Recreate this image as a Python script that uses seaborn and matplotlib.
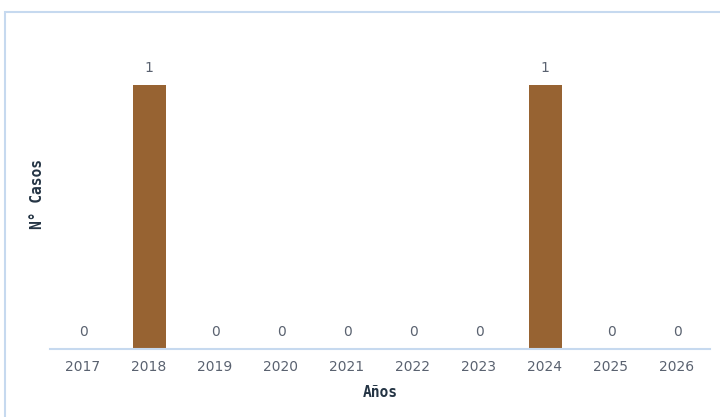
import matplotlib
matplotlib.use("Agg")
import matplotlib.pyplot as plt
import seaborn as sns
import pandas as pd
from matplotlib.patches import Rectangle
from matplotlib.font_manager import FontProperties

years = ["2017", "2018", "2019", "2020", "2021", "2022", "2023", "2024", "2025", "2026"]
casos = [0, 1, 0, 0, 0, 0, 0, 1, 0, 0]

df = pd.DataFrame({"Años": years, "Casos": casos})

sns.set_style("white")
plt.rcParams['font.family'] = ['DejaVu Sans']

fig = plt.figure(figsize=(7.2, 4.17), dpi=100)
ax = fig.add_axes([50/720, 1 - 349/417, 660/720, (349 - 45)/417])

sns.barplot(data=df, x="Años", y="Casos", color="#976332", width=0.5,
            saturation=1, ax=ax, order=years, linewidth=0)

ax.set_ylim(0, 1.15)
ax.set_xlim(-0.5, len(years) - 0.5)
ax.set_yticks([])
for s in ["top", "right", "left"]:
    ax.spines[s].set_visible(False)
ax.spines["bottom"].set_color("#c6d9ef")
ax.spines["bottom"].set_linewidth(1.5)
ax.tick_params(axis="x", length=0, pad=8, labelsize=10, labelcolor="#5a6270")

for i, v in enumerate(casos):
    ax.annotate(str(v), (i, v), xytext=(0, 7), textcoords="offset points",
                ha="center", va="bottom", fontsize=10, color="#5a6270")

lab_fp = FontProperties(family=["DejaVu Sans Mono"], weight="bold", size=10.5)
ax.set_xlabel("Años", fontproperties=lab_fp, color="#243444", labelpad=8)
ax.set_ylabel("N° Casos", fontproperties=lab_fp, color="#243444")
ax.yaxis.set_label_coords(-5/660, 0.51)

fig.patches.append(Rectangle((5/720, -0.1), 1.2, 1 - 12/417 + 0.1,
                             transform=fig.transFigure, fill=False,
                             edgecolor="#c6d9ef", linewidth=1.5))

fig.savefig("out.png", dpi=100)
